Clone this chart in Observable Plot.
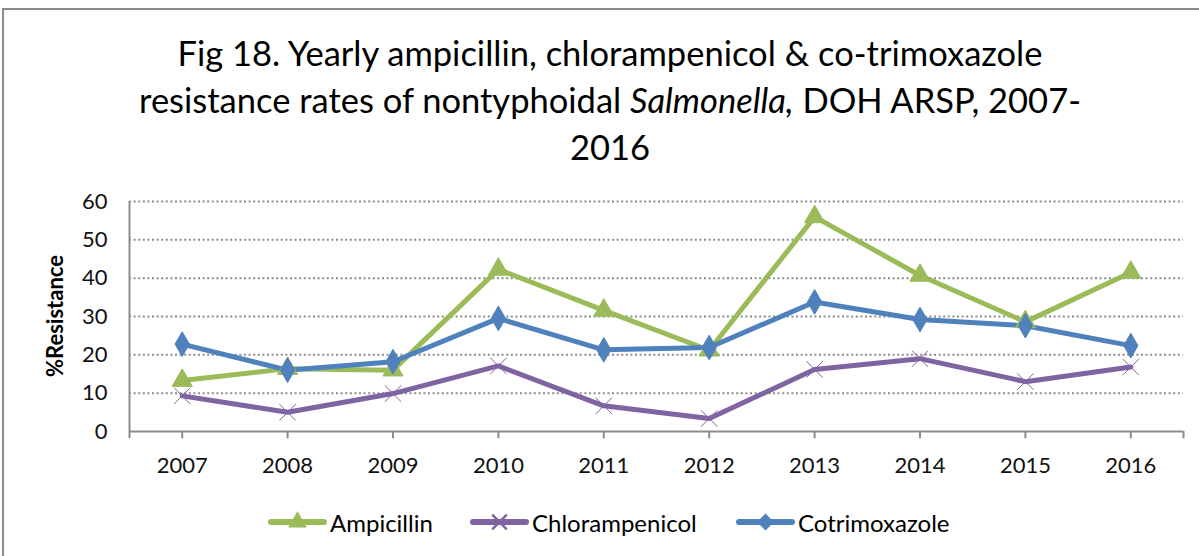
<!DOCTYPE html>
<html><head><meta charset="utf-8">
<script src="https://cdn.jsdelivr.net/npm/d3@7"></script>
<script src="https://cdn.jsdelivr.net/npm/@observablehq/plot@0.6"></script>
<style>
html,body{margin:0;padding:0;background:#fff;}
#frame{position:absolute;left:2px;top:8px;width:1200px;height:560px;border:2px solid #8c8c8c;box-sizing:border-box;}
#title{position:absolute;left:0;top:29px;width:1220px;text-align:center;font-family:Lato,sans-serif;font-size:34.5px;line-height:47px;color:#000;}
#chart{position:absolute;left:0;top:185px;}
#legend{position:absolute;top:505px;left:0;width:1199px;font-family:Lato,sans-serif;font-size:24px;color:#000;}
.item{position:absolute;display:flex;align-items:center;height:34px;}
.item svg{margin-right:3px;}
</style></head>
<body>
<div id="frame"></div>
<div id="title">Fig 18. Yearly ampicillin, chlorampenicol &amp; co-trimoxazole<br>resistance rates of nontyphoidal <i>Salmonella,</i> DOH ARSP, 2007-<br>2016</div>
<div id="chart"></div>
<div id="legend"></div>
<script>
const years = [2007,2008,2009,2010,2011,2012,2013,2014,2015,2016];
const ampicillin = [13.3,16.4,16.0,42.3,31.6,21.2,56.0,40.7,28.6,41.5];
const chloramphenicol = [9.3,5.0,9.9,17.1,6.7,3.4,16.2,19.0,13.0,16.8];
const cotrimoxazole = [22.8,16.0,18.2,29.5,21.3,21.9,33.8,29.2,27.6,22.4];
const seriesNames = ["Ampicillin","Chlorampenicol","Cotrimoxazole"];
const seriesValues = [ampicillin, chloramphenicol, cotrimoxazole];
const colors = ["#9BBB59","#8064A2","#4F81BD"];
const symbols = ["triangle","times","diamond"];
const yTicks = [0,10,20,30,40,50,60];

const data = [];
seriesNames.forEach((s,i)=>years.forEach((y,j)=>data.push({series:s, year:y, value:seriesValues[i][j]})));

const font = "Lato, sans-serif";
const plot = Plot.plot({
  width:1199, height:300,
  marginTop:16, marginBottom:54, marginLeft:129, marginRight:16,
  style:{fontFamily:font, fontSize:"22px", color:"#000", background:"transparent", overflow:"visible"},
  x:{domain:[2006.5,2016.5], axis:null},
  y:{domain:[0,60], axis:null},
  color:{domain:seriesNames, range:colors},
  symbol:{domain:seriesNames, range:symbols},
  marks:[
    Plot.ruleY(yTicks.filter(d=>d>0), {y:d=>d, stroke:"#8c8c8c", strokeWidth:2, strokeDasharray:"2,2.6"}),
    Plot.ruleY([0], {y:d=>d, stroke:"#8c8c8c", strokeWidth:2}),
    Plot.ruleX([2006.5], {x:d=>d, y1:0, y2:60, stroke:"#8c8c8c", strokeWidth:2}),
    Plot.ruleX([...years, 2006.5, 2016.5], {x:d=>d, y1:0, y2:-1.9, stroke:"#8c8c8c", strokeWidth:2}),
    Plot.text(yTicks, {x:()=>2006.5, y:d=>d, text:d=>String(d), textAnchor:"end", dx:-22, fontSize:22, fill:"#111"}),
    Plot.text(years, {x:d=>d, y:()=>0, text:d=>String(d), dy:34, fontSize:22, fill:"#111"}),
    Plot.line(data, {x:"year", y:"value", z:"series", stroke:"series", strokeWidth:5, strokeLinejoin:"miter"}),
    Plot.dot(data, {x:"year", y:"value", symbol:"series", fill:"series", stroke:"series", r:7.5, strokeWidth:1})
  ]
});
document.getElementById("chart").appendChild(plot);
// y axis title
const svg = d3.select(plot);
svg.append("text").attr("transform","translate(63,131) rotate(-90)").attr("text-anchor","middle")
  .attr("font-weight","bold").attr("font-size","22px").attr("font-family",font).text("%Resistance");

// legend
const legendX = [268, 470, 736];
const leg = document.getElementById("legend");
seriesNames.forEach((s,i)=>{
  const it = document.createElement("div");
  it.className="item"; it.style.left=legendX[i]+"px";
  const ns="http://www.w3.org/2000/svg";
  const sv = document.createElementNS(ns,"svg"); sv.setAttribute("width",59); sv.setAttribute("height",34);
  const ln = document.createElementNS(ns,"line");
  ln.setAttribute("x1",3);ln.setAttribute("x2",56);ln.setAttribute("y1",17);ln.setAttribute("y2",17);
  ln.setAttribute("stroke",colors[i]);ln.setAttribute("stroke-width",6);ln.setAttribute("stroke-linecap","round");
  sv.appendChild(ln);
  const p = document.createElementNS(ns,"path");
  const sym = [d3.symbolTriangle, d3.symbolTimes, d3.symbolDiamond2][i];
  p.setAttribute("d", d3.symbol(sym, i===2?170:140)());
  p.setAttribute("transform","translate(29.5,17)");
  p.setAttribute("fill",colors[i]); p.setAttribute("stroke",colors[i]); p.setAttribute("stroke-width", i===1?2.5:0.5);
  sv.appendChild(p);
  it.appendChild(sv);
  const t=document.createElement("span"); t.textContent=s; it.appendChild(t);
  leg.appendChild(it);
});
</script>
</body></html>
